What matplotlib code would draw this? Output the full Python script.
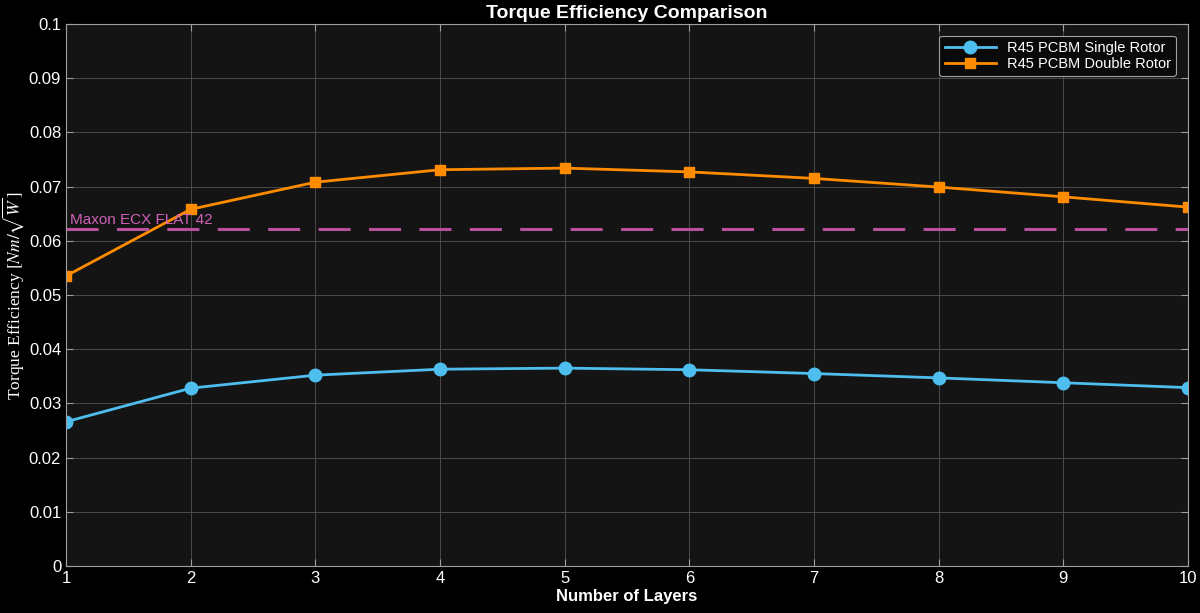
import matplotlib
matplotlib.use("Agg")
import matplotlib.pyplot as plt
import numpy as np

# data
layers = [1, 2, 3, 4, 5, 6, 7, 8, 9, 10]
single_rotor = [0.0266, 0.0328, 0.0352, 0.0363, 0.0365, 0.0362, 0.0355, 0.0347, 0.0338, 0.0329]
double_rotor = [0.0535, 0.0658, 0.0708, 0.0731, 0.0734, 0.0727, 0.0715, 0.0699, 0.0681, 0.0662]
maxon_ref = 0.0621

plt.rcParams['font.family'] = ['Liberation Sans', 'DejaVu Sans']
plt.rcParams['mathtext.fontset'] = 'stix'

fig = plt.figure(figsize=(12, 6.13), dpi=100, facecolor='black')
ax = fig.add_axes([0.055, 0.0767, 0.935, 0.8843])
ax.set_facecolor('#141414')

ax.plot(layers, single_rotor, '-o', color='#4DBEEE', lw=2, ms=9,
        label='R45 PCBM Single Rotor')
ax.plot(layers, double_rotor, '-s', color='#FF8C00', lw=2, ms=7,
        label='R45 PCBM Double Rotor')
ax.axhline(maxon_ref, color='#B8509E', lw=2.2, ls=(0, (10.5, 6)))
ax.text(1.03, maxon_ref + 0.0005, 'Maxon ECX FLAT 42', color='#D060B8',
        fontsize=11, va='bottom', ha='left')

ax.set_xlim(1, 10)
ax.set_ylim(0, 0.1)
ax.set_xticks(layers)
ax.set_yticks(np.arange(0, 0.101, 0.01))
ax.set_yticklabels(['0'] + [f'{v:.2f}' for v in np.arange(0.01, 0.1, 0.01)] + ['0.1'])

ax.grid(True, color='#4A4A4A', lw=0.7)
ax.tick_params(colors='white', labelsize=12, direction='in', length=5,
               top=True, right=True, color='#A0A0A0')
for s in ax.spines.values():
    s.set_color('#A0A0A0')

ax.set_title('Torque Efficiency Comparison', color='white', fontsize=14,
             fontweight='bold', pad=4)
ax.set_xlabel('Number of Layers', color='white', fontsize=12, fontweight='bold',
              labelpad=2)
ax.set_ylabel(r'Torque Efficiency $[Nm/\sqrt{W}\,]$', color='white', fontsize=12.5,
              family='Liberation Serif')
ax.yaxis.set_label_coords(-0.036, 0.5)

leg = ax.legend(loc='upper right', facecolor='#0A0A0A', edgecolor='#A0A0A0',
                fontsize=10.5, framealpha=1, borderpad=0.35, handlelength=3.5,
                labelspacing=0.15, borderaxespad=0.8)
leg.get_frame().set_linewidth(0.8)
for t in leg.get_texts():
    t.set_color('white')

fig.savefig('out.png', dpi=100, facecolor='black')
